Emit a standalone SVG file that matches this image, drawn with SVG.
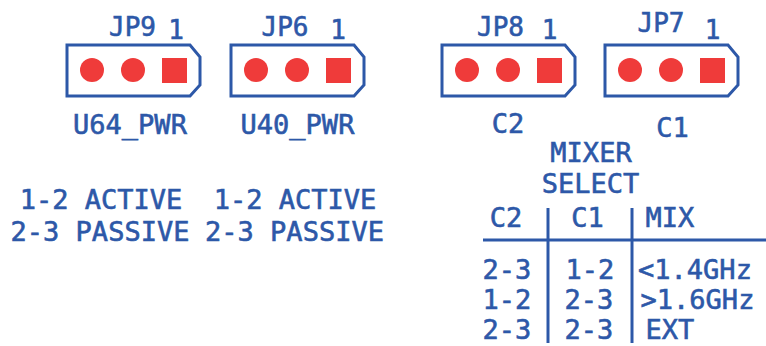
<svg xmlns="http://www.w3.org/2000/svg" width="766" height="346" viewBox="0 0 766 346">
<defs>
<style>
text{font-family:"DejaVu Sans Mono","Liberation Mono",monospace;font-size:27px;fill:#2d58a8;stroke:#2d58a8;stroke-width:0.6;text-anchor:middle}
.jp{font-size:26px}
.box{fill:none;stroke:#2d58a8;stroke-width:3;stroke-linejoin:miter}
.pin{fill:#ef3b3a}
.ln{stroke:#2d58a8;stroke-width:3;fill:none}
</style>
<g id="hdr">
<path class="box" d="M0,0 H123 L133,12 V40 L123,51 H0 Z"/>
<circle class="pin" cx="25" cy="25" r="12"/>
<circle class="pin" cx="66" cy="25" r="12"/>
<rect class="pin" x="95" y="13" width="25" height="25"/>
</g>
</defs>
<rect width="766" height="346" fill="#ffffff"/>
<g id="JP9">
<use href="#hdr" x="67" y="45"/>
<text class="jp" x="132.5" y="36">JP9</text>
<text class="jp" x="176" y="39">1</text>
<text x="130" y="134">U64_PWR</text>
</g>
<g id="JP6">
<use href="#hdr" x="231" y="45"/>
<text class="jp" x="285" y="36">JP6</text>
<text class="jp" x="338" y="39">1</text>
<text x="297.5" y="134">U40_PWR</text>
</g>
<g id="JP8">
<use href="#hdr" x="442" y="45"/>
<text class="jp" x="500.5" y="36">JP8</text>
<text class="jp" x="549.5" y="39">1</text>
<text x="508" y="133">C2</text>
</g>
<g id="JP7">
<use href="#hdr" x="605" y="45"/>
<text class="jp" x="661" y="32">JP7</text>
<text class="jp" x="712.5" y="39">1</text>
<text x="672.5" y="137">C1</text>
</g>
<g id="notes">
<text x="101" y="209">1-2 ACTIVE</text>
<text x="100" y="241">2-3 PASSIVE</text>
<text x="295" y="209">1-2 ACTIVE</text>
<text x="294.5" y="241">2-3 PASSIVE</text>
</g>
<g id="table">
<text x="591" y="162">MIXER</text>
<text x="590.5" y="193">SELECT</text>
<text x="506" y="227">C2</text>
<text x="587.5" y="227">C1</text>
<text x="670" y="227">MIX</text>
<text x="507" y="279">2-3</text>
<text x="590" y="279">1-2</text>
<text x="695" y="279">&lt;1.4GHz</text>
<text x="507" y="309">1-2</text>
<text x="589" y="309">2-3</text>
<text x="697.5" y="309">&gt;1.6GHz</text>
<text x="507" y="339">2-3</text>
<text x="589" y="339">2-3</text>
<text x="670" y="339">EXT</text>
</g>
<g id="connectors">
<line class="ln" x1="483" y1="240" x2="766" y2="240"/>
<line class="ln" x1="548" y1="208" x2="548" y2="343"/>
<line class="ln" x1="632" y1="208" x2="632" y2="343"/>
</g>
</svg>
